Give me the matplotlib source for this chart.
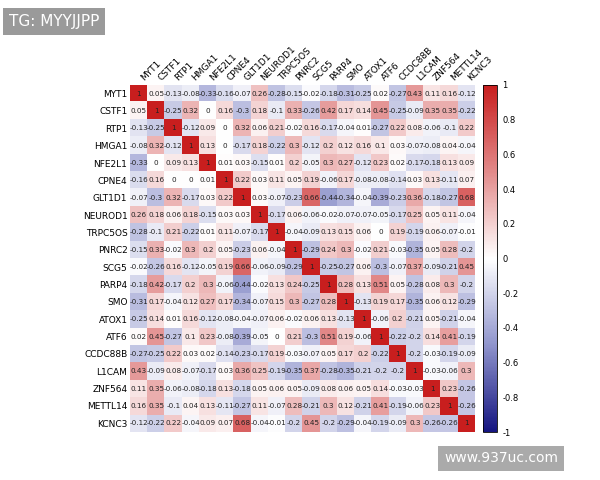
import numpy as np
import matplotlib.pyplot as plt
from matplotlib.colors import LinearSegmentedColormap

genes = ["MYT1", "CSTF1", "RTP1", "HMGA1", "NFE2L1", "CPNE4", "GLT1D1", "NEUROD1",
         "TRPC5OS", "PNRC2", "SCG5", "PARP4", "SMO", "ATOX1", "ATF6", "CCDC88B",
         "L1CAM", "ZNF564", "METTL14", "KCNC3"]

# upper triangle rows (from diagonal onward)
upper = [
    [1, 0.05, -0.13, -0.08, -0.33, -0.16, -0.07, 0.26, -0.28, -0.15, -0.02, -0.18, -0.31, -0.25, 0.02, -0.27, 0.43, 0.11, 0.16, -0.12],
    [1, -0.25, 0.32, 0, 0.16, -0.3, 0.18, -0.1, 0.33, -0.26, 0.42, 0.17, 0.14, 0.45, -0.25, -0.09, 0.35, 0.35, -0.22],
    [1, -0.12, 0.09, 0, 0.32, 0.06, 0.21, -0.02, 0.16, -0.17, -0.04, 0.01, -0.27, 0.22, 0.08, -0.06, -0.1, 0.22],
    [1, 0.13, 0, -0.17, 0.18, -0.22, 0.3, -0.12, 0.2, 0.12, 0.16, 0.1, 0.03, -0.07, -0.08, 0.04, -0.04],
    [1, 0.01, 0.03, -0.15, 0.01, 0.2, -0.05, 0.3, 0.27, -0.12, 0.23, 0.02, -0.17, -0.18, 0.13, 0.09],
    [1, 0.22, 0.03, 0.11, 0.05, 0.19, -0.06, 0.17, -0.08, -0.08, -0.14, 0.03, 0.13, -0.11, 0.07],
    [1, 0.03, -0.07, -0.23, 0.66, -0.44, -0.34, -0.04, -0.39, -0.23, 0.36, -0.18, -0.27, 0.68],
    [1, -0.17, 0.06, -0.06, -0.02, -0.07, -0.07, -0.05, -0.17, 0.25, 0.05, 0.11, -0.04],
    [1, -0.04, -0.09, 0.13, 0.15, 0.06, 0, 0.19, -0.19, 0.06, -0.07, -0.01],
    [1, -0.29, 0.24, 0.3, -0.02, 0.21, -0.03, -0.35, 0.05, 0.28, -0.2],
    [1, -0.25, -0.27, 0.06, -0.3, -0.07, 0.37, -0.09, -0.21, 0.45],
    [1, 0.28, 0.13, 0.51, 0.05, -0.28, 0.08, 0.3, -0.2],
    [1, -0.13, 0.19, 0.17, -0.35, 0.06, 0.12, -0.29],
    [1, -0.06, 0.2, -0.21, 0.05, -0.21, -0.04],
    [1, -0.22, -0.2, 0.14, 0.41, -0.19],
    [1, -0.2, -0.03, -0.19, -0.09],
    [1, -0.03, -0.06, 0.3],
    [1, 0.23, -0.26],
    [1, -0.26],
    [1],
]

n = len(genes)
corr = np.zeros((n, n))
for i, row in enumerate(upper):
    corr[i, i:] = row
    corr[i:, i] = row

cmap = LinearSegmentedColormap.from_list("bwr2", ["#141480", "#8f94cc", "#ffffff", "#e28a8a", "#c81e1e"])

fig = plt.figure(figsize=(6, 4.8), dpi=100)
ax = fig.add_axes([0.217, 0.10, 0.575, 0.723])
cax = fig.add_axes([0.805, 0.10, 0.024, 0.723])

im = ax.imshow(corr, cmap=cmap, vmin=-1, vmax=1, aspect="auto")
for i in range(n):
    for j in range(n):
        v = corr[i, j]
        s = "1" if v == 1 else ("0" if v == 0 else f"{v:g}")
        ax.text(j, i, s, ha="center", va="center", fontsize=5.2, color="#222222")

ax.set_xticks(np.arange(n))
ax.set_yticks(np.arange(n))
ax.set_xticklabels(genes, rotation=45, ha="left", fontsize=6.5)
ax.set_yticklabels(genes, fontsize=6.5)
ax.xaxis.tick_top()
ax.tick_params(length=0, pad=2)
for s in ax.spines.values():
    s.set_visible(False)

cb = fig.colorbar(im, cax=cax, ticks=np.arange(-1, 1.01, 0.2))
cb.ax.set_yticklabels([f"{t:g}" if abs(t) > 1e-9 else "0" for t in np.round(np.arange(-1, 1.01, 0.2), 1)])
cb.ax.tick_params(labelsize=6, length=0)
cb.outline.set_linewidth(0.6)

fig.text(0.015, 0.955, "TG: MYYJJPP", fontsize=11, color="white", va="center",
         bbox=dict(boxstyle="square,pad=0.4", fc="#9a9a9a", ec="none"))
fig.text(0.74, 0.045, "www.937uc.com", fontsize=10, color="white", va="center",
         bbox=dict(boxstyle="square,pad=0.4", fc="#aaaaaa", ec="none"))

fig.savefig("out.png", dpi=100)
